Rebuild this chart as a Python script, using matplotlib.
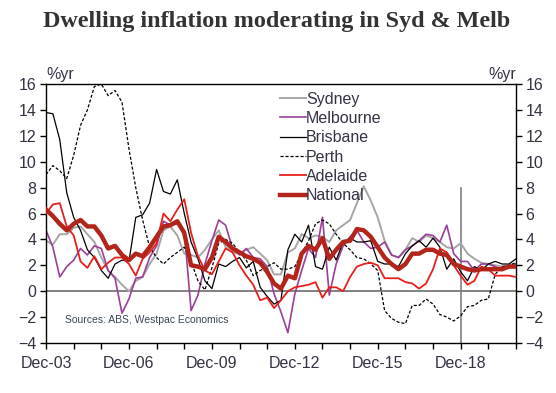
import numpy as np
import pandas as pd
import matplotlib
matplotlib.use("Agg")
import matplotlib.pyplot as plt

# quarterly, Dec-03 .. Dec-20, annual % change
dates = pd.date_range("2003-12-31", "2020-12-31", freq="QE-DEC")

sydney = [3.9, 3.6, 4.4, 4.4, 4.9, 5.0, 4.4, 3.8, 2.6, 1.6, 1.1, 0.5, 0.0, 0.8, 1.1, 2.1,
          2.9, 4.7, 5.0, 4.3, 2.9, 2.8, 2.6, 3.2, 4.0, 4.7, 3.4, 3.0, 2.9, 3.2, 3.4, 2.9,
          2.4, 1.3, 1.3, 3.0, 3.3, 4.4, 4.1, 4.3, 4.2, 3.8, 4.7, 5.1, 5.5, 6.8, 8.1, 7.0,
          5.7, 3.9, 2.8, 2.6, 3.2, 4.1, 3.8, 4.3, 4.1, 3.8, 3.4, 3.3, 3.7, 2.9, 2.5, 2.2,
          2.1, 2.0, 1.9, 2.0, 2.1]
melbourne = [4.7, 3.4, 1.1, 1.9, 2.4, 3.3, 2.8, 3.5, 3.3, 1.6, 1.0, -1.7, -0.6, 1.0, 1.1, 2.6,
             3.5, 5.4, 5.1, 5.2, 4.7, -1.5, -0.3, 2.1, 3.9, 5.5, 5.1, 3.3, 2.8, 3.3, 2.6, 2.5,
             1.9, -0.2, -1.6, -3.2, -0.2, 1.6, 3.3, 2.6, 5.7, -0.3, 2.1, 3.5, 4.2, 4.7, 3.8, 3.3,
             3.4, 3.8, 2.8, 2.6, 3.2, 3.5, 3.9, 4.4, 4.3, 3.8, 5.1, 2.9, 2.3, 2.3, 1.6, 2.1,
             2.1, 1.9, 1.6, 1.9, 2.1]
brisbane = [13.8, 13.7, 11.7, 7.6, 5.7, 4.7, 3.2, 2.6, 1.6, 1.0, 2.1, 2.4, 2.3, 5.7, 5.9, 6.8,
            9.4, 7.7, 7.5, 8.6, 6.0, 3.8, 2.5, 0.8, 0.2, 2.1, 1.9, 2.3, 2.6, 1.8, 2.3, 0.3,
            -0.4, -1.0, -0.7, 3.2, 4.4, 3.8, 5.1, 1.9, 1.7, 3.4, 2.4, 3.8, 4.1, 3.8, 3.8, 3.9,
            2.3, 2.1, 2.1, 1.9, 2.9, 3.5, 3.9, 3.4, 4.1, 3.4, 1.7, 2.5, 1.5, 0.8, 1.9, 1.6,
            2.1, 2.3, 2.1, 2.1, 2.5]
perth = [9.0, 9.7, 9.3, 8.7, 10.5, 12.8, 14.0, 15.8, 16.0, 15.1, 15.5, 14.6, 11.0, 8.0, 5.5, 3.4,
         2.6, 2.1, 2.6, 3.0, 3.4, 2.3, 0.8, 0.1, 1.8, 3.7, 4.0, 3.7, 3.0, 2.4, 1.2, 1.6,
         1.9, 2.2, 1.7, 1.7, 1.9, 2.9, 3.9, 5.2, 5.5, 5.2, 4.4, 3.7, 3.2, 2.6, 2.5, 2.1,
         1.6, -1.5, -2.1, -2.4, -2.5, -1.1, -1.1, -0.6, -1.0, -1.8, -2.0, -2.3, -1.9, -1.2, -1.1, -0.7,
         -0.6, 1.3, 1.9, 2.0, 2.2]
adelaide = [6.0, 6.7, 6.8, 5.0, 4.3, 2.3, 1.8, 2.7, 1.7, 2.2, 2.6, 2.6, 2.1, 1.2, 2.5, 3.0,
            3.7, 6.0, 5.4, 6.3, 7.1, 4.5, 2.7, 1.6, 1.3, 2.3, 3.3, 3.0, 2.0, 1.2, 0.5, -0.7,
            -0.5, -1.3, -0.7, 0.0, 0.3, 0.4, 0.5, 0.7, -0.5, 0.3, 0.3, 0.0, 1.1, 1.9, 2.1, 2.2,
            2.0, 1.0, 1.0, 1.0, 0.7, 0.6, 0.2, 0.6, 1.7, 3.3, 3.0, 2.0, 1.2, 0.5, 0.8, 1.9,
            1.7, 1.2, 1.2, 1.2, 1.1]
national = [6.3, 5.8, 5.2, 4.7, 5.2, 5.5, 5.0, 5.0, 4.3, 3.3, 3.5, 2.8, 2.4, 2.9, 2.7, 3.4,
            4.2, 5.0, 5.1, 5.4, 4.5, 2.0, 1.9, 1.7, 2.6, 4.2, 3.8, 3.3, 3.0, 2.7, 2.5, 2.2,
            1.5, 0.6, 0.2, 1.2, 1.0, 2.9, 3.5, 3.2, 4.1, 2.5, 3.2, 3.8, 3.9, 4.8, 4.7, 4.2,
            3.4, 2.6, 2.1, 1.7, 2.1, 2.9, 2.9, 3.2, 3.2, 2.9, 2.8, 2.1, 1.9, 1.7, 1.6, 1.7,
            1.7, 1.7, 1.7, 1.9, 1.9]

yticks = list(range(-4, 17, 2))
xtick_dates = pd.date_range("2003-12-31", "2020-12-31", freq="YE-DEC")
xtick_labels = [d.strftime("Dec-%y") if (d.year - 2003) % 3 == 0 and d.year < 2020 else ""
                for d in xtick_dates]

txt = "#333344"
plt.rcParams["font.family"] = ["Liberation Sans", "DejaVu Sans"]

fig = plt.figure(figsize=(5.56, 3.93), dpi=100)
ax = fig.add_axes([46 / 556, 1 - 343 / 393, 470 / 556, 259 / 393])

ax.axhline(0, color="#808080", lw=1.4, zorder=1)
ax.plot([pd.Timestamp("2018-12-31")] * 2, [-4, 8], color="#808080", lw=1.2, zorder=1)

ax.plot(dates, sydney, color="#a6a6a6", lw=1.4, label="Sydney", zorder=2)
ax.plot(dates, melbourne, color="#9b3f98", lw=1.2, label="Melbourne", zorder=2)
ax.plot(dates, brisbane, color="black", lw=0.9, label="Brisbane", zorder=3)
ax.plot(dates, perth, color="black", lw=0.9, ls=(0, (2.5, 1.5)), label="Perth", zorder=3)
ax.plot(dates, adelaide, color="#e8201c", lw=1.3, label="Adelaide", zorder=4)
ax.plot(dates, national, color="#b3241b", lw=3.2, label="National", zorder=5)

ax.set_xlim(pd.Timestamp("2003-12-31"), pd.Timestamp("2020-12-31"))
ax.set_ylim(-4, 16)
ax.set_yticks(yticks)
ax.set_xticks(xtick_dates)
ax.set_xticklabels(xtick_labels)
ax.tick_params(axis="both", direction="out", length=4, width=1, labelsize=11.5,
               colors="black", labelcolor=txt)
ax.tick_params(axis="y", which="both", left=True, right=True, labelleft=True, labelright=True, pad=3)
ax.tick_params(axis="x", pad=5)
for s in ax.spines.values():
    s.set_linewidth(1)

leg = ax.legend(loc="upper left", bbox_to_anchor=(0.485, 0.995), frameon=False,
                handlelength=1.6, handletextpad=0.0, labelspacing=0.27,
                fontsize=11.5, borderaxespad=0)
for t in leg.get_texts():
    t.set_color(txt)

fig.text(46 / 556, 1 - 74 / 393, "%yr", fontsize=11.5, color=txt, va="center", ha="left")
fig.text(516 / 556, 1 - 74 / 393, "%yr", fontsize=11.5, color=txt, va="center", ha="right")
ax.text(0.04, 0.088, "Sources: ABS, Westpac Economics", transform=ax.transAxes,
        fontsize=7.5, color="#3a4656", va="center")

fig.text(0.498, 1 - 22 / 393, "Dwelling inflation moderating in Syd & Melb",
         fontsize=17.4, fontweight="bold", family="Liberation Serif", color="#333333",
         ha="center", va="center")

fig.savefig("out.png", dpi=100)
